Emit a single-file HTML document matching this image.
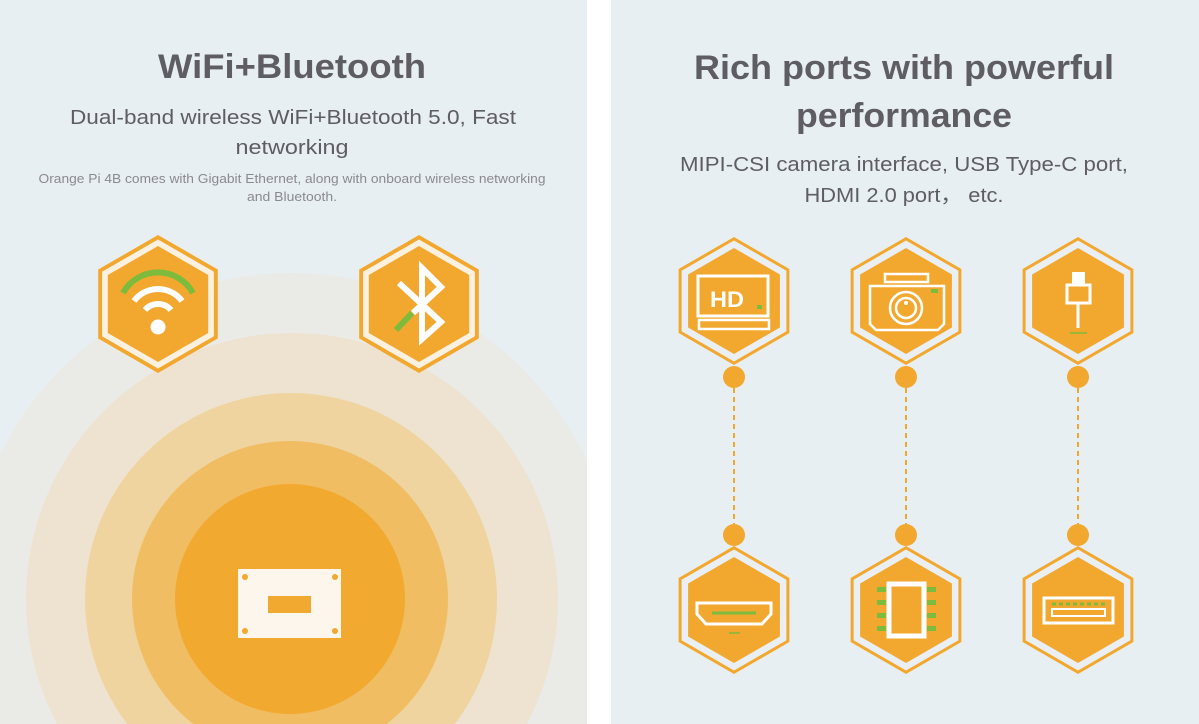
<!DOCTYPE html>
<html><head><meta charset="utf-8"><style>
html,body{margin:0;padding:0;background:#fff;width:1199px;height:724px;overflow:hidden;}
svg{display:block;}
text{font-family:"Liberation Sans",sans-serif;fill:#5d5d63;}
</style></head><body>
<svg width="1199" height="724" viewBox="0 0 1199 724" xmlns="http://www.w3.org/2000/svg">
<defs>
<clipPath id="lc"><rect x="0" y="0" width="587" height="724"/></clipPath>
<g id="hexL">
<polygon points="0,-69 59.8,-34.5 59.8,34.5 0,69 -59.8,34.5 -59.8,-34.5" fill="#f2a82f"/>
<polygon points="0,-64.5 55.9,-32.25 55.9,32.25 0,64.5 -55.9,32.25 -55.9,-32.25" fill="#fbf1e1"/>
<polygon points="0,-58 50.2,-29 50.2,29 0,58 -50.2,29 -50.2,-29" fill="#f2a82f"/>
</g>
<g id="hexR">
<polygon points="0,-64 55.4,-32 55.4,32 0,64 -55.4,32 -55.4,-32" fill="#f2a82f"/>
<polygon points="0,-60.5 52.4,-30.25 52.4,30.25 0,60.5 -52.4,30.25 -52.4,-30.25" fill="#e9eff3"/>
<polygon points="0,-53 45.9,-26.5 45.9,26.5 0,53 -45.9,26.5 -45.9,-26.5" fill="#f2a82f"/>
</g>
</defs>
<rect x="0" y="0" width="587" height="724" fill="#e8eff3"/>
<rect x="611" y="0" width="588" height="724" fill="#e8eff3"/>
<g clip-path="url(#lc)">
<circle cx="292" cy="599" r="326" fill="#eaebe7"/>
<circle cx="292" cy="599" r="266" fill="#ede3d0"/>
<circle cx="291" cy="599" r="206" fill="#efd49f"/>
<circle cx="290" cy="599" r="158" fill="#f0bd63"/>
<circle cx="290" cy="599" r="115" fill="#f2a930"/>
</g>
<rect x="238" y="569" width="103" height="69" fill="#fdf6ec"/>
<rect x="268" y="596" width="43" height="17" fill="#f2a930"/>
<g fill="#f2a930"><circle cx="245" cy="577" r="3"/><circle cx="335" cy="577" r="3"/><circle cx="245" cy="631" r="3"/><circle cx="335" cy="631" r="3"/></g>

<text x="292" y="78" font-size="34" font-weight="bold" text-anchor="middle" textLength="268" lengthAdjust="spacingAndGlyphs">WiFi+Bluetooth</text>
<text x="293" y="124" font-size="20" text-anchor="middle" textLength="446" lengthAdjust="spacingAndGlyphs">Dual-band wireless WiFi+Bluetooth 5.0, Fast</text>
<text x="292" y="154" font-size="20" text-anchor="middle" textLength="113" lengthAdjust="spacingAndGlyphs">networking</text>
<text x="292" y="183" font-size="12.5" style="fill:#8a8a8e" text-anchor="middle" textLength="507" lengthAdjust="spacingAndGlyphs">Orange Pi 4B comes with Gigabit Ethernet, along with onboard wireless networking</text>
<text x="292" y="201" font-size="12.5" style="fill:#8a8a8e" text-anchor="middle" textLength="90" lengthAdjust="spacingAndGlyphs">and Bluetooth.</text>

<text x="904" y="79" font-size="34" font-weight="bold" text-anchor="middle" textLength="420" lengthAdjust="spacingAndGlyphs">Rich ports with powerful</text>
<text x="904" y="127" font-size="34" font-weight="bold" text-anchor="middle" textLength="216" lengthAdjust="spacingAndGlyphs">performance</text>
<text x="904" y="171" font-size="20" text-anchor="middle" textLength="448" lengthAdjust="spacingAndGlyphs">MIPI-CSI camera interface, USB Type-C port,</text>
<text x="904" y="202" font-size="20" text-anchor="middle" textLength="199" lengthAdjust="spacingAndGlyphs">HDMI 2.0 port， etc.</text>

<use href="#hexL" x="158" y="304"/>
<use href="#hexL" x="419" y="304"/>
<path d="M123,293 A40,40 0 0 1 193,293" stroke="#7cbb3c" stroke-width="6" fill="none"/>
<path d="M134,301 A30,30 0 0 1 182,301" stroke="#fff" stroke-width="6" fill="none"/>
<path d="M145,310 A17,17 0 0 1 171,310" stroke="#fff" stroke-width="6" fill="none"/>
<circle cx="158" cy="327" r="7.5" fill="#fff"/>
<polyline points="399,283 441,322 422,339 422,268 441,287 413,313" stroke="#fff" stroke-width="6" fill="none"/>
<line x1="396" y1="330" x2="412" y2="313" stroke="#7cbb3c" stroke-width="6"/>

<use href="#hexR" x="734" y="301"/>
<use href="#hexR" x="906" y="301"/>
<use href="#hexR" x="1078" y="301"/>
<use href="#hexR" x="734" y="610"/>
<use href="#hexR" x="906" y="610"/>
<use href="#hexR" x="1078" y="610"/>
<g fill="#f2a82f">
<circle cx="734" cy="377" r="11"/><circle cx="734" cy="535" r="11"/>
<circle cx="906" cy="377" r="11"/><circle cx="906" cy="535" r="11"/>
<circle cx="1078" cy="377" r="11"/><circle cx="1078" cy="535" r="11"/>
</g>
<g stroke="#f2a82f" stroke-width="2" stroke-dasharray="5,4">
<line x1="734" y1="388" x2="734" y2="524"/><line x1="906" y1="388" x2="906" y2="524"/><line x1="1078" y1="388" x2="1078" y2="524"/>
</g>

<rect x="698" y="276" width="70" height="40" fill="none" stroke="#fff" stroke-width="3"/>
<text x="727" y="307" font-size="22" font-weight="bold" text-anchor="middle" style="fill:#fff" textLength="34" lengthAdjust="spacingAndGlyphs">HD</text>
<rect x="757" y="305" width="5" height="4" fill="#7cbb3c"/>
<rect x="699" y="320" width="70" height="9" fill="none" stroke="#fff" stroke-width="2.5"/>

<rect x="885" y="274" width="43" height="8" fill="none" stroke="#fff" stroke-width="2.5"/>
<path d="M870,286 L944,286 L944,324 L938,330 L876,330 L870,324 Z" fill="none" stroke="#fff" stroke-width="2.5"/>
<circle cx="906" cy="308" r="16" fill="none" stroke="#fff" stroke-width="2.5"/>
<circle cx="906" cy="308" r="10" fill="none" stroke="#fff" stroke-width="2.5"/>
<circle cx="906" cy="303" r="2" fill="#fff"/>
<rect x="931" y="289" width="7" height="4" fill="#7cbb3c"/>

<rect x="1072" y="272" width="13" height="12" fill="#fff"/>
<rect x="1067" y="285" width="23" height="18" fill="none" stroke="#fff" stroke-width="3"/>
<line x1="1078" y1="303" x2="1078" y2="328" stroke="#fff" stroke-width="3"/>
<line x1="1070" y1="333" x2="1087" y2="333" stroke="#7cbb3c" stroke-width="1.5"/>

<path d="M697,603 L771,603 L771,614 L762,624 L706,624 L697,614 Z" fill="none" stroke="#fff" stroke-width="3"/>
<line x1="712" y1="613" x2="756" y2="613" stroke="#7cbb3c" stroke-width="3"/>
<line x1="729" y1="633" x2="740" y2="633" stroke="#7cbb3c" stroke-width="1.5"/>

<rect x="889" y="584" width="35" height="52" fill="none" stroke="#fff" stroke-width="5"/>
<g fill="#7cbb3c">
<rect x="877" y="587" width="9" height="5"/><rect x="877" y="600" width="9" height="5"/><rect x="877" y="613" width="9" height="5"/><rect x="877" y="626" width="9" height="5"/>
<rect x="927" y="587" width="9" height="5"/><rect x="927" y="600" width="9" height="5"/><rect x="927" y="613" width="9" height="5"/><rect x="927" y="626" width="9" height="5"/>
</g>

<rect x="1044" y="598" width="69" height="25" fill="none" stroke="#fff" stroke-width="3"/>
<rect x="1052" y="609" width="53" height="7" fill="none" stroke="#fff" stroke-width="2"/>
<line x1="1052" y1="604" x2="1106" y2="604" stroke="#7cbb3c" stroke-width="3" stroke-dasharray="4,3"/>
</svg>
</body></html>
